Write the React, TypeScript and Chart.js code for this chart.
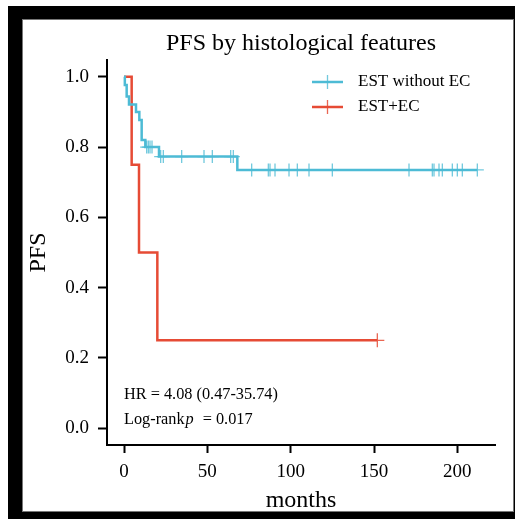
import React, { useEffect, useRef } from "react";
import { Chart, registerables } from "chart.js";

Chart.register(...registerables);

const TITLE = "PFS by histological features";
const X_TITLE = "months";
const Y_TITLE = "PFS";
const SERIES_NAMES = ["EST without EC", "EST+EC"];
const SERIES_COLORS = ["#4DBBD5", "#E64B35"];
const CENSOR_COLORS = ["rgba(77,187,213,0.8)", "rgba(230,75,53,0.85)"];

const X_TICKS = [0, 50, 100, 150, 200];
const Y_TICKS = [0, 0.2, 0.4, 0.6, 0.8, 1.0];

// EST without EC: step times and survival levels
const blueTimes = [0, 0.5, 1.6, 3.0, 7.2, 9.2, 10.6, 12.8, 21.0, 68.0, 212.0];
const blueSurv = [1.0, 0.977, 0.944, 0.921, 0.9, 0.877, 0.82, 0.8, 0.773, 0.735, 0.735];
const blueCensor = [
  13.6, 14.6, 15.6, 16.8, 22.0, 23.6, 34.6, 48.0, 53.0, 64.0, 65.6, 76.6, 86.6,
  87.6, 90.6, 99.0, 104.0, 111.0, 125.0, 171.0, 185.0, 186.0, 189.0, 191.0,
  197.0, 200.0, 203.0, 212.0,
];

// EST+EC
const redTimes = [0, 4.6, 9.0, 20.0, 152.0];
const redSurv = [1.0, 0.75, 0.5, 0.25, 0.25];
const redCensor = [152.0];

const HR_TEXT = "HR = 4.08 (0.47-35.74)";
const LOGRANK_PREFIX = "Log-rank";
const LOGRANK_P = "p";
const LOGRANK_VALUE = "= 0.017";

const FONT = '"Liberation Serif", "Times New Roman", serif';

function survAt(times: number[], surv: number[], t: number) {
  let v = surv[0];
  for (let i = 0; i < times.length; i++) if (times[i] <= t) v = surv[i];
  return v;
}

const textPlugin = {
  id: "kmTexts",
  afterDraw(chart: any) {
    const ctx = chart.ctx;
    const a = chart.chartArea;
    const xs = chart.scales.x;
    const ys = chart.scales.y;
    ctx.save();
    ctx.fillStyle = "#000";
    // title
    ctx.font = `24px ${FONT}`;
    ctx.textAlign = "center";
    ctx.textBaseline = "alphabetic";
    ctx.fillText(TITLE, (a.left + a.right) / 2, 30);

    // legend
    const lx = a.left + 205;
    const rows = [a.top + 22, a.top + 47];
    SERIES_NAMES.forEach((name, i) => {
      const y = rows[i];
      ctx.strokeStyle = SERIES_COLORS[i];
      ctx.lineWidth = 2.5;
      ctx.beginPath();
      ctx.moveTo(lx, y);
      ctx.lineTo(lx + 31, y);
      ctx.stroke();
      ctx.strokeStyle = CENSOR_COLORS[i];
      ctx.lineWidth = 1.3;
      ctx.beginPath();
      ctx.moveTo(lx + 15.5, y - 7);
      ctx.lineTo(lx + 15.5, y + 7);
      ctx.stroke();
      ctx.fillStyle = "#000";
      ctx.font = `17px ${FONT}`;
      ctx.textAlign = "left";
      ctx.textBaseline = "middle";
      ctx.fillText(name, lx + 46, y);
    });

    // annotations
    const ax = xs.getPixelForValue(0);
    ctx.font = `16.3px ${FONT}`;
    ctx.textAlign = "left";
    ctx.textBaseline = "alphabetic";
    ctx.fillText(HR_TEXT, ax, ys.getPixelForValue(0.083));
    const by = ys.getPixelForValue(0.011);
    ctx.fillText(LOGRANK_PREFIX, ax, by);
    let cx = ax + ctx.measureText(LOGRANK_PREFIX).width + 1;
    ctx.font = `italic 16.3px ${FONT}`;
    ctx.fillText(LOGRANK_P, cx, by);
    cx += ctx.measureText(LOGRANK_P).width + 9;
    ctx.font = `16.3px ${FONT}`;
    ctx.fillText(LOGRANK_VALUE, cx, by);
    ctx.restore();
  },
};

export default function App() {
  const ref = useRef<HTMLCanvasElement | null>(null);
  useEffect(() => {
    if (!ref.current) return;
    const mk = (times: number[], surv: number[]) =>
      times.map((t, i) => ({ x: t, y: surv[i] }));
    const cens = (c: number[], times: number[], surv: number[]) =>
      c.map((t) => ({ x: t, y: survAt(times, surv, t) }));
    const chart = new Chart(ref.current, {
      type: "line",
      data: {
        datasets: [
          {
            label: SERIES_NAMES[0],
            data: mk(blueTimes, blueSurv),
            borderColor: SERIES_COLORS[0],
            borderWidth: 2.5,
            stepped: true,
            pointRadius: 0,
            fill: false,
          },
          {
            label: SERIES_NAMES[1],
            data: mk(redTimes, redSurv),
            borderColor: SERIES_COLORS[1],
            borderWidth: 2.5,
            stepped: true,
            pointRadius: 0,
            fill: false,
          },
          {
            label: SERIES_NAMES[0] + " censored",
            data: cens(blueCensor, blueTimes, blueSurv),
            showLine: false,
            pointStyle: "cross",
            pointRadius: 6.5,
            pointBorderWidth: 1.3,
            pointBorderColor: CENSOR_COLORS[0],
            borderColor: CENSOR_COLORS[0],
          },
          {
            label: SERIES_NAMES[1] + " censored",
            data: cens(redCensor, redTimes, redSurv),
            showLine: false,
            pointStyle: "cross",
            pointRadius: 7,
            pointBorderWidth: 1.3,
            pointBorderColor: CENSOR_COLORS[1],
            borderColor: CENSOR_COLORS[1],
          },
        ],
      },
      options: {
        responsive: false,
        animation: false,
        layout: { padding: { left: 0, right: 18, top: 40, bottom: 0 } },
        plugins: {
          legend: { display: false },
          tooltip: { enabled: false },
          title: { display: false },
        },
        scales: {
          x: {
            type: "linear",
            min: -10.2,
            max: 222.6,
            afterBuildTicks: (s: any) => {
              s.ticks = X_TICKS.map((v) => ({ value: v }));
            },
            afterFit: (s: any) => {
              s.height = 66;
            },
            grid: {
              drawOnChartArea: false,
              drawTicks: true,
              tickLength: 8,
              tickColor: "#000",
              tickWidth: 2,
            },
            border: { display: true, color: "#000", width: 2 },
            ticks: {
              color: "#000",
              font: { family: FONT, size: 19 },
              padding: 8,
              maxRotation: 0,
            },
            title: {
              display: true,
              text: X_TITLE,
              color: "#000",
              font: { family: FONT, size: 24, lineHeight: 1 },
              padding: { top: 0, bottom: -2 },
            },
          },
          y: {
            type: "linear",
            min: -0.048,
            max: 1.048,
            afterBuildTicks: (s: any) => {
              s.ticks = Y_TICKS.map((v) => ({ value: v }));
            },
            afterFit: (s: any) => {
              s.width = 84;
            },
            grid: {
              drawOnChartArea: false,
              drawTicks: true,
              tickLength: 9,
              tickColor: "#000",
              tickWidth: 2,
            },
            border: { display: true, color: "#000", width: 2 },
            ticks: {
              color: "#000",
              font: { family: FONT, size: 19 },
              padding: 9,
              callback: (v: any) => Number(v).toFixed(1),
            },
            title: {
              display: true,
              text: Y_TITLE,
              color: "#000",
              font: { family: FONT, size: 24, lineHeight: 1.2 },
              padding: { top: 1, bottom: 0 },
            },
          },
        },
      },
      plugins: [textPlugin],
    });
    return () => chart.destroy();
  }, []);

  return (
    <div
      style={{
        position: "absolute",
        left: 8,
        top: 6,
        width: 507,
        height: 513,
        background: "#000",
      }}
    >
      <div
        style={{
          position: "absolute",
          left: 14,
          top: 13,
          width: 492,
          height: 493,
          boxSizing: "border-box",
          border: "1px solid #777",
          background: "#fff",
        }}
      >
        <canvas
          ref={ref}
          width={490}
          height={491}
          style={{ display: "block", width: 490, height: 491 }}
        />
      </div>
    </div>
  );
}
